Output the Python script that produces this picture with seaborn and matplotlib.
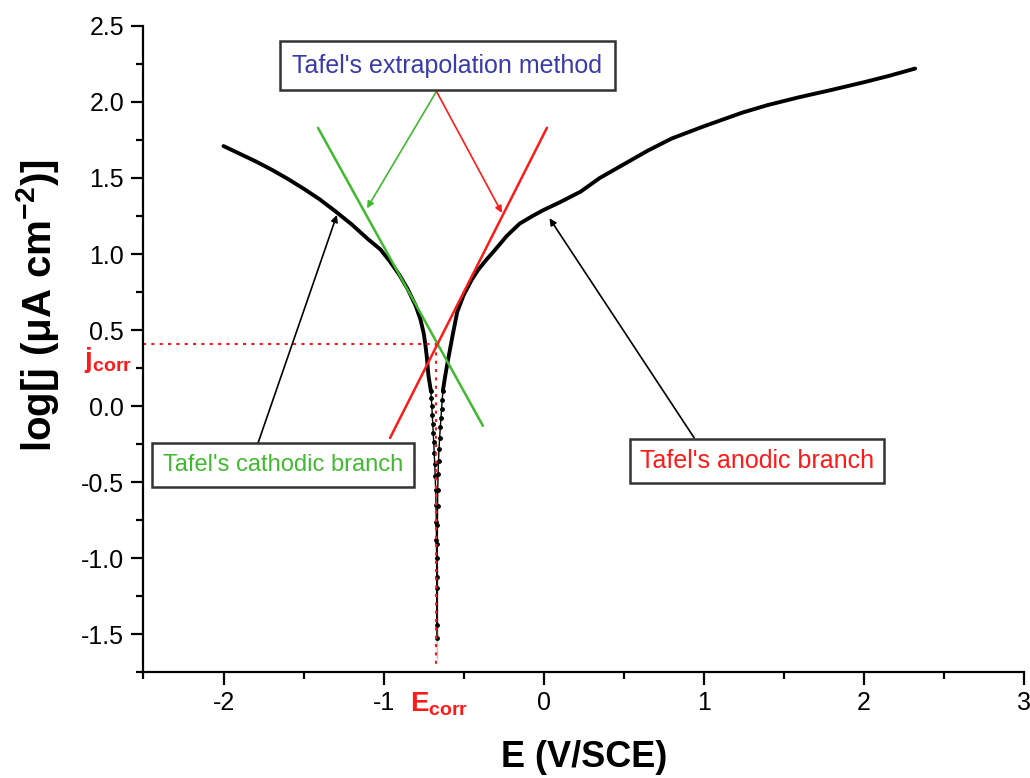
import numpy as np
import pandas as pd
import matplotlib
matplotlib.use("Agg")
import matplotlib.pyplot as plt
import seaborn as sns
from matplotlib.ticker import MultipleLocator

# Polarisation curve (E in V/SCE, log j in uA cm-2)
cath_E = [-2.00, -1.90, -1.80, -1.70, -1.60, -1.50, -1.40, -1.30, -1.20, -1.10, -1.02,
          -0.96, -0.90, -0.85, -0.80, -0.77, -0.75, -0.74, -0.73, -0.72, -0.705]
cath_logj = [1.71, 1.66, 1.61, 1.555, 1.495, 1.43, 1.36, 1.28, 1.195, 1.10, 1.03,
             0.95, 0.86, 0.77, 0.66, 0.57, 0.48, 0.41, 0.32, 0.20, 0.10]
anod_E = [-0.630, -0.615, -0.60, -0.57, -0.54, -0.50, -0.45, -0.41, -0.36, -0.31, -0.23,
          -0.15, -0.07, 0.00, 0.10, 0.23, 0.35, 0.50, 0.65, 0.80, 1.00, 1.24, 1.40,
          1.59, 1.80, 2.00, 2.15, 2.32]
anod_logj = [0.10, 0.20, 0.29, 0.46, 0.62, 0.73, 0.83, 0.895, 0.96, 1.02, 1.12,
             1.20, 1.25, 1.29, 1.34, 1.41, 1.50, 1.59, 1.68, 1.76, 1.84, 1.93, 1.98,
             2.03, 2.08, 2.13, 2.17, 2.22]

# sparse points near E_corr (they show up as dots)
cath_tail_E = [-0.705, -0.702, -0.699, -0.696, -0.693, -0.690, -0.687, -0.684, -0.681, -0.678,
               -0.675, -0.673, -0.671, -0.670, -0.669, -0.668, -0.668, -0.667, -0.667, -0.667]
cath_tail_logj = [0.10, 0.05, 0.00, -0.06, -0.12, -0.18, -0.24, -0.31, -0.38, -0.46,
                  -0.55, -0.65, -0.76, -0.88, -1.00, -1.13, -1.26, -1.39, -1.52, -1.66]
anod_tail_E = [-0.630, -0.634, -0.638, -0.642, -0.646, -0.650, -0.654, -0.657, -0.660,
               -0.662, -0.663, -0.664, -0.665, -0.666, -0.666, -0.667, -0.667]
anod_tail_logj = [0.10, 0.04, -0.02, -0.08, -0.14, -0.21, -0.28, -0.36, -0.45,
                  -0.55, -0.66, -0.78, -0.91, -1.05, -1.20, -1.36, -1.52]

# Tafel extrapolation lines
tafel_c_E = [-1.41, -0.38]
tafel_c_logj = [1.83, -0.13]
tafel_a_E = [-0.96, 0.02]
tafel_a_logj = [-0.21, 1.83]

E_corr = -0.674
logj_corr = 0.41

green = "#3fba2e"
red = "#ff1a1a"
blue = "#3a3aaa"

sns.set_theme(style="ticks")
plt.rcParams["font.family"] = ["Liberation Sans", "DejaVu Sans"]
plt.rcParams.update({
    "mathtext.fontset": "custom",
    "mathtext.rm": "Liberation Sans",
    "mathtext.bf": "Liberation Sans:bold",
    "mathtext.default": "bf",
    "axes.linewidth": 1.6,
    "axes.edgecolor": "black",
    "xtick.color": "black",
    "ytick.color": "black",
    "text.color": "black",
    "axes.labelcolor": "black",
})

fig = plt.figure(figsize=(10.30, 7.78), dpi=100)
ax = fig.add_axes([0.1393, 0.1362, 0.8549, 0.8304])

cath = pd.DataFrame({"E": cath_E, "logj": cath_logj})
anod = pd.DataFrame({"E": anod_E, "logj": anod_logj})
sns.lineplot(data=cath, x="E", y="logj", sort=False, color="black", lw=2.8, ax=ax)
sns.lineplot(data=anod, x="E", y="logj", sort=False, color="black", lw=2.8, ax=ax)

for te, tj in [(cath_tail_E, cath_tail_logj), (anod_tail_E, anod_tail_logj)]:
    tail = pd.DataFrame({"E": te, "logj": tj})
    sns.lineplot(data=tail, x="E", y="logj", sort=False, color="black", lw=1.0,
                 marker="o", markersize=3.5, markeredgewidth=0, ax=ax)

sns.lineplot(x=tafel_c_E, y=tafel_c_logj, color=green, lw=1.8, ax=ax)
sns.lineplot(x=tafel_a_E, y=tafel_a_logj, color=red, lw=1.8, ax=ax)

# corrosion point guides
ax.plot([-2.5, E_corr], [logj_corr, logj_corr], color=red, lw=1.5, ls=(0, (1.5, 2.5)))
ax.plot([E_corr, E_corr], [logj_corr, -1.72], color=red, lw=1.5, ls=(0, (1.5, 2.5)))

ax.set_xlim(-2.5, 3)
ax.set_ylim(-1.75, 2.5)
ax.xaxis.set_major_locator(MultipleLocator(1))
ax.xaxis.set_minor_locator(MultipleLocator(0.5))
ax.yaxis.set_major_locator(MultipleLocator(0.5))
ax.yaxis.set_minor_locator(MultipleLocator(0.25))
ax.xaxis.set_major_formatter(plt.FuncFormatter(lambda v, p: f"{v:.0f}"))
ax.yaxis.set_major_formatter(plt.FuncFormatter(lambda v, p: f"{v:.1f}"))
ax.tick_params(which="major", direction="out", length=9, width=1.6, labelsize=18, pad=5)
ax.tick_params(which="minor", direction="out", length=5, width=1.6)
sns.despine(ax=ax)

ax.set_xlabel("E (V/SCE)", fontsize=26, fontweight="bold", labelpad=18)
ax.set_ylabel("log[j (μA cm$^{-2}$)]", fontsize=29, fontweight="bold")
ax.yaxis.set_label_coords(-0.094, 0.567)

# labels for corrosion potential / current
ax.annotate("E$_{corr}$", xy=(-0.65, 0), xycoords=("data", "axes fraction"),
            xytext=(0, -13), textcoords="offset points", ha="center", va="top",
            fontsize=20, fontweight="bold", color=red)
ax.annotate("j$_{corr}$", xy=(0, 0.30), xycoords=("axes fraction", "data"),
            xytext=(-8, 0), textcoords="offset points", ha="right", va="center",
            fontsize=20, fontweight="bold", color=red)

box = dict(boxstyle="square,pad=0.5", fc="white", ec="#333333", lw=1.8)
ax.text(-0.603, 2.24, "Tafel's extrapolation method", color=blue, fontsize=18,
        ha="center", va="center", bbox=box, zorder=5)
ax.text(-1.63, -0.388, "Tafel's cathodic branch", color=green, fontsize=17,
        ha="center", va="center", bbox=dict(box, boxstyle="square,pad=0.45"), zorder=5)
ax.text(1.334, -0.359, "Tafel's anodic branch", color=red, fontsize=18,
        ha="center", va="center", bbox=dict(box, boxstyle="square,pad=0.4"), zorder=5)

arrows = [
    ((-1.104, 1.30), (-0.67, 2.07), green),
    ((-0.261, 1.27), (-0.67, 2.07), red),
    ((-1.292, 1.257), (-1.785, -0.245), "black"),
    ((0.036, 1.235), (0.94, -0.21), "black"),
]
for head, base, col in arrows:
    ax.annotate("", xy=head, xytext=base,
                arrowprops=dict(arrowstyle="-|>", color=col, lw=1.2,
                                mutation_scale=10, shrinkA=0, shrinkB=0))

fig.savefig("out.png", dpi=100)
